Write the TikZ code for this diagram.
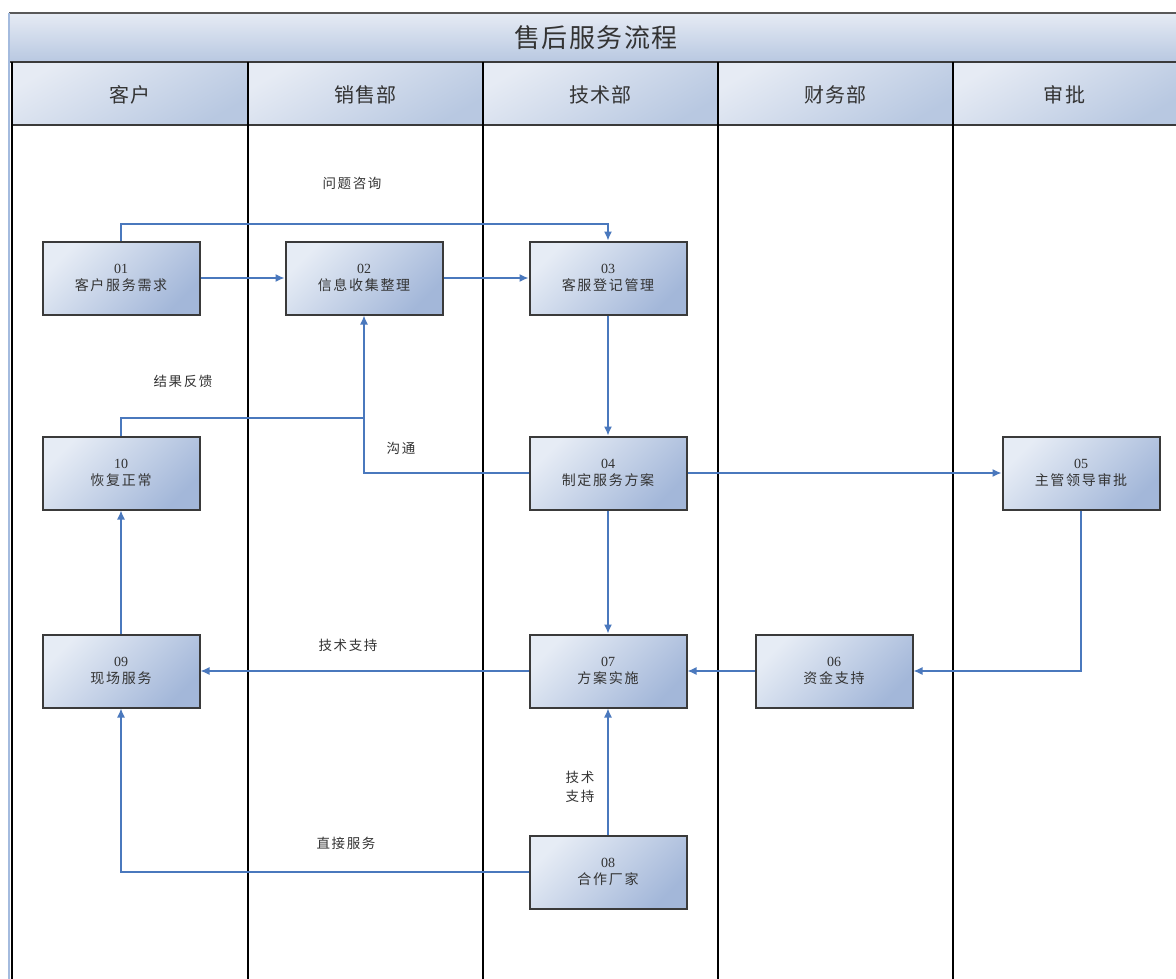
\documentclass[tikz,border=0pt]{standalone}
\usepackage{fontspec}
\setmainfont{Liberation Serif}
\newfontfamily\cjk{Noto Sans CJK SC}[LetterSpace=12]
\newfontfamily\cjkhead{Noto Sans CJK SC}[LetterSpace=6]
\usetikzlibrary{positioning,arrows.meta}
\definecolor{boxlight}{HTML}{E6ECF5}
\definecolor{boxdark}{HTML}{A3B7D9}
\definecolor{boxline}{HTML}{3A3A3A}
\definecolor{flowblue}{HTML}{4A78BD}
\definecolor{headlight}{HTML}{E6EBF4}
\definecolor{headdark}{HTML}{B8C8E1}
\definecolor{inkgray}{HTML}{333333}
\tikzset{
	stepbox/.style={draw=boxline, line width=2pt, top color=boxlight, bottom color=boxdark, shading angle=45,
		minimum width=157pt, minimum height=73pt, align=center, text=inkgray, font=\fontsize{14}{17}\selectfont},
	flow/.style={draw=flowblue, line width=1.4pt, -{Latex[length=9pt,width=8pt]}},
	flowline/.style={draw=flowblue, line width=1.4pt},
	lbl/.style={text=inkgray, font=\cjk\fontsize{13.5}{19}\selectfont, align=center},
	lane/.style={draw=black, line width=1.8pt}
}
\begin{document}
\begin{tikzpicture}[x=1pt,y=-1pt]
	\useasboundingbox[fill=white] (0,0) rectangle (1176,979);
	% title and lane headers
	\shade[top color=headlight, bottom color=headdark] (9,13) rectangle (1176,62);
	\draw[gray!70!black, line width=1.5pt] (9,13) -- (1176,13);
	\node[text=inkgray, font=\cjkhead\fontsize{26}{30}\selectfont] (title) at (596,38) {售后服务流程};
	\foreach \xa/\xb/\lname in {12/248/客户, 248/483/销售部, 483/718/技术部, 718/953/财务部, 953/1176/审批} {
		\shade[top color=headlight, bottom color=headdark, shading angle=30] (\xa,62) rectangle (\xb,125);
		\node[text=inkgray, font=\cjkhead\fontsize{20}{24}\selectfont] at ({(\xa+\xb)/2},95) {\lname};
	}
	\draw[boxline, line width=1.8pt] (9,62) -- (1176,62);
	\draw[boxline, line width=1.8pt] (12,125) -- (1176,125);
	\draw[flowblue!50, line width=1.5pt] (9,13) -- (9,979);
	\foreach \x in {12,248,483,718,953} \draw[lane] (\x,62) -- (\x,979);
	% steps
	\node[stepbox] (n01) at (121,278) {01\\{\cjk 客户服务需求}};
	\node[stepbox] (n02) at (364,278) {02\\{\cjk 信息收集整理}};
	\node[stepbox] (n03) at (608,278) {03\\{\cjk 客服登记管理}};
	\node[stepbox] (n04) at (608,473) {04\\{\cjk 制定服务方案}};
	\node[stepbox] (n05) at (1081,473) {05\\{\cjk 主管领导审批}};
	\node[stepbox] (n06) at (834,671) {06\\{\cjk 资金支持}};
	\node[stepbox] (n07) at (608,671) {07\\{\cjk 方案实施}};
	\node[stepbox] (n08) at (608,872) {08\\{\cjk 合作厂家}};
	\node[stepbox] (n09) at (121,671) {09\\{\cjk 现场服务}};
	\node[stepbox] (n10) at (121,473) {10\\{\cjk 恢复正常}};
	% connectors
	\coordinate (ask) at (121,224);
	\coordinate (fb) at (364,418);
	\draw[flow] (n01) -- (n02);
	\draw[flow] (n02) -- (n03);
	\draw[flow] (n01.north) -- (ask) -| (n03.north);
	\draw[flow] (n03) -- (n04);
	\draw[flow] (n04) -- (n05);
	\draw[flow] (n04.west) -| (n02.south);
	\draw[flowline] (n10.north) |- (fb);
	\draw[flow] (n05.south) |- (n06.east);
	\draw[flow] (n06) -- (n07);
	\draw[flow] (n04) -- (n07);
	\draw[flow] (n07) -- (n09);
	\draw[flow] (n08) -- (n07);
	\draw[flow] (n08.west) -| (n09.south);
	\draw[flow] (n09) -- (n10);
	% labels
	\node[lbl] (l01) at (352,183) {问题咨询};
	\node[lbl] (l02) at (183,381) {结果反馈};
	\node[lbl] (l03) at (401,448) {沟通};
	\node[lbl] (l04) at (348,645) {技术支持};
	\node[lbl] (l05) at (580,787) {技术\\支持};
	\node[lbl] (l06) at (346,843) {直接服务};
\end{tikzpicture}
\end{document}
